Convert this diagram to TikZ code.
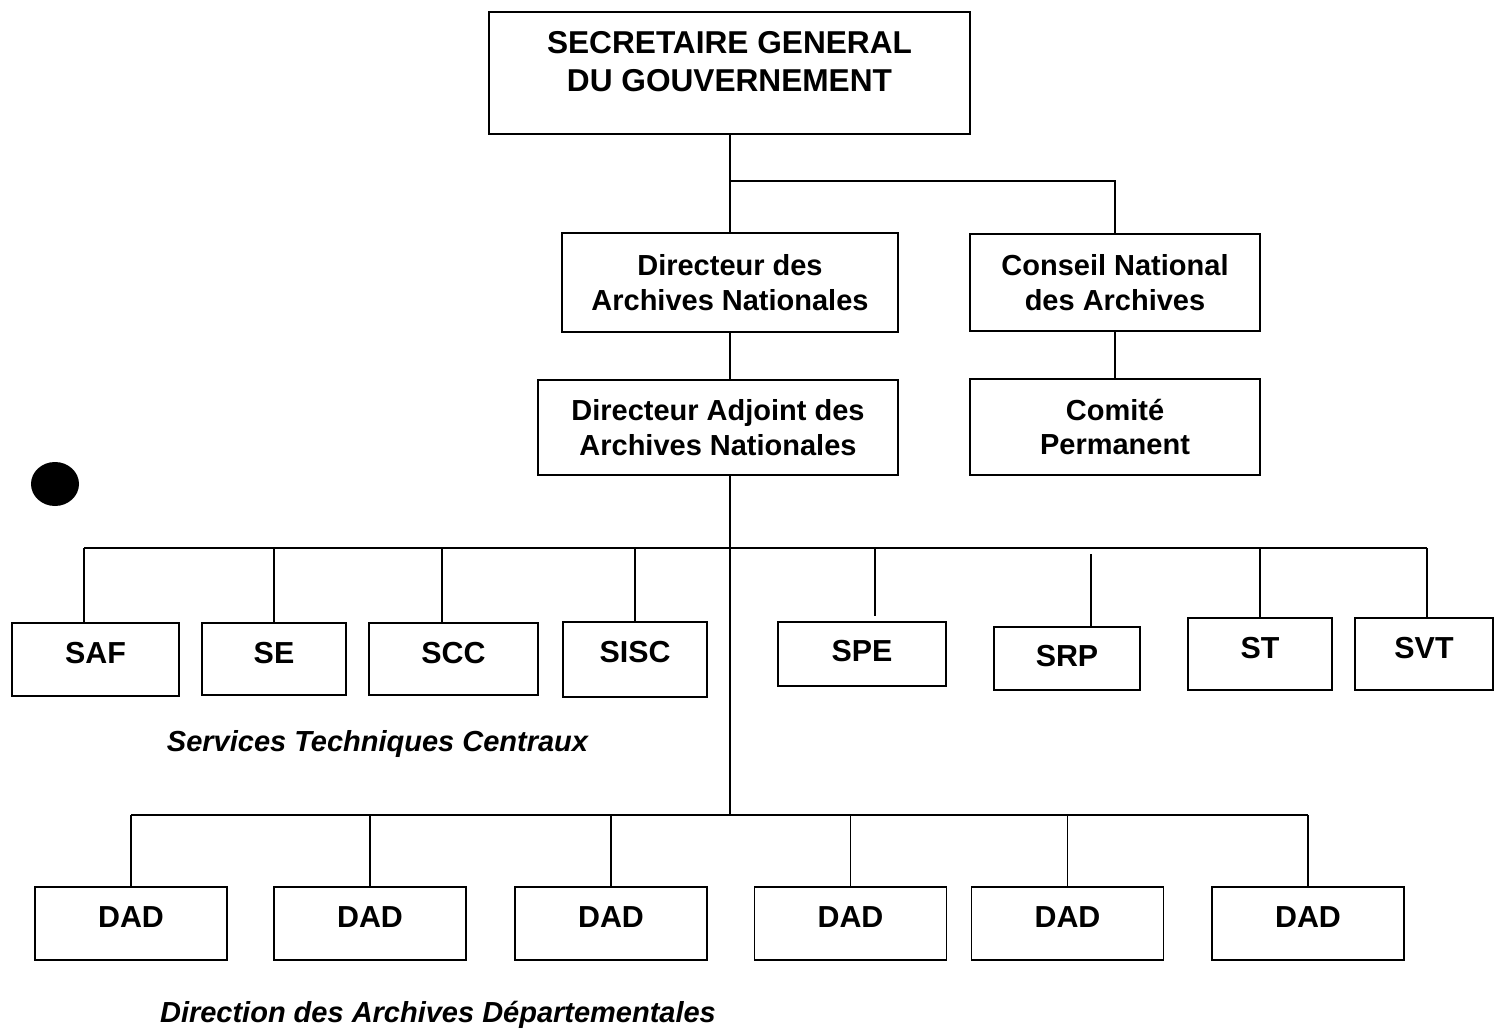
\documentclass[tikz,border=0pt]{standalone}
\usepackage{fontspec}
\setmainfont{Liberation Sans}

\begin{document}
\begin{tikzpicture}[x=0.02cm,y=-0.02cm,line width=1.1pt,
        box/.style={draw, align=center, inner sep=2pt, font=\bfseries\fontsize{16.5}{19.8}\selectfont},
        svc/.style={draw, text depth=7.4pt, font=\bfseries\fontsize{17.3}{20}\selectfont},
        dad/.style={svc, minimum width=3.84cm, minimum height=1.46cm},
        caption/.style={anchor=base, font=\bfseries\itshape\fontsize{16.5}{19.8}\selectfont}]
        \useasboundingbox (0,0) rectangle (1494,1030);

        % top of the chart
        \node[box, minimum width=9.62cm, minimum height=2.44cm, text depth=13.6pt,
              font=\bfseries\fontsize{18}{21.6}\selectfont] (sg) at (729.5,73) {SECRETAIRE GENERAL\\DU GOUVERNEMENT};
        \node[box, minimum width=6.72cm, minimum height=1.98cm] (dir) at (730,282.5) {Directeur des\\Archives Nationales};
        \node[box, minimum width=5.8cm, minimum height=1.94cm] (cons) at (1115,282.5) {Conseil National\\des Archives};
        \node[box, minimum width=7.2cm, minimum height=1.9cm] (adj) at (718,427.5) {Directeur Adjoint des\\Archives Nationales};
        \node[box, minimum width=5.8cm, minimum height=1.92cm] (com) at (1115,427) {Comité\\Permanent};

        \coordinate (split) at (730,181);
        \coordinate (sbus) at (730,548);
        \coordinate (dbus) at (730,815);
        \draw (sg.south -| split) -- (split |- dir.north);
        \draw (split) -| (cons.north);
        \draw (dir.south -| split) -- (split |- adj.north);
        \draw (cons.south) -- (com.north);
        \draw (split |- adj.south) -- (dbus);

        % services techniques centraux
        \node[svc, minimum width=3.34cm, minimum height=1.46cm] (saf) at (95.5,659.5) {SAF};
        \node[svc, minimum width=2.88cm, minimum height=1.44cm] (se) at (274,659) {SE};
        \node[svc, minimum width=3.38cm, minimum height=1.44cm] (scc) at (453.5,659) {SCC};
        \node[svc, minimum width=2.88cm, minimum height=1.5cm, text depth=9pt] (sisc) at (635,659.5) {SISC};
        \node[svc, minimum width=3.36cm, minimum height=1.28cm, text depth=3pt] (spe) at (862,654) {SPE};
        \node[svc, minimum width=2.92cm, minimum height=1.26cm, text depth=3pt] (srp) at (1067,658.5) {SRP};
        \node[svc, minimum width=2.88cm, minimum height=1.44cm] (st) at (1260,654) {ST};
        \node[svc, minimum width=2.76cm, minimum height=1.44cm] (svt) at (1424,654) {SVT};

        \foreach \name/\dx in {saf/84, se/274, scc/442, sisc/635, spe/875, srp/1091, st/1260, svt/1427}
                \coordinate (t\name) at (\dx,548);
        \draw (tsaf) -- (tsvt);
        \foreach \name in {saf, se, scc, sisc, st, svt}
                \draw (t\name) -- (t\name |- \name.north);
        \draw[shorten >=2.8pt] (tspe) -- (tspe |- spe.north);
        \draw[shorten <=3.5pt] (tsrp) -- (tsrp |- srp.north);

        \node[caption] (stc) at (377.5,751) {Services Techniques Centraux};

        % archives departementales
        \foreach \x [count=\i] in {131,370,611,850.5,1067.5,1308} {
                \node[dad] (dad\i) at (\x,923.5) {DAD};
                \draw (dad\i.north |- dbus) -- (dad\i.north);
        }
        \draw (dad1.north |- dbus) -- (dad6.north |- dbus);

        \node[caption] (dir-dep) at (438,1022) {Direction des Archives Départementales};

        % punched hole
        \fill (55,484) ellipse [x radius=24, y radius=22];
\end{tikzpicture}
\end{document}
